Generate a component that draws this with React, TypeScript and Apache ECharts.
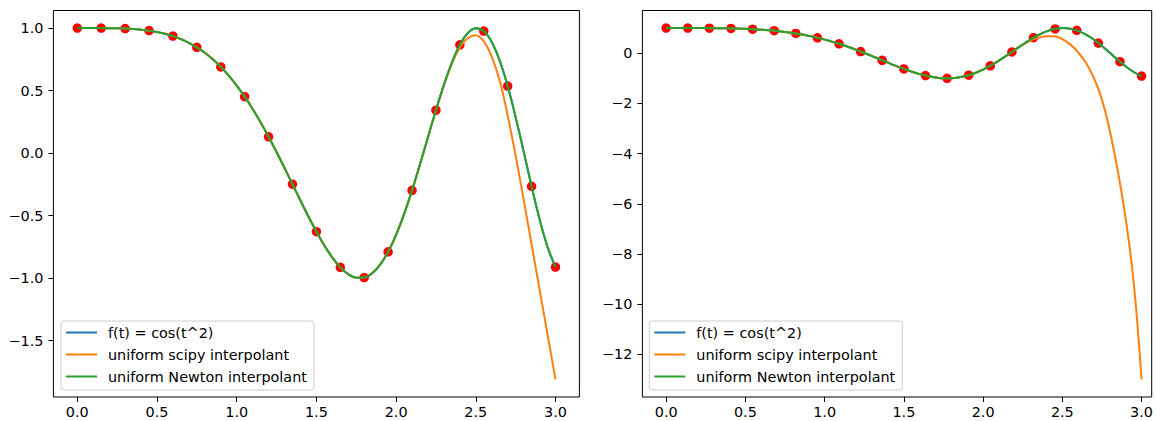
import React, { useEffect, useRef } from "react";
import * as echarts from "echarts";

// sample grid for the smooth curves
const tFine = [
  0.0, 0.05, 0.1, 0.15, 0.2, 0.25, 0.3, 0.35, 0.4, 0.45, 0.5, 0.55, 0.6, 0.65, 0.7, 0.75, 0.8, 0.85, 0.9, 0.95,
  1.0, 1.05, 1.1, 1.15, 1.2, 1.25, 1.3, 1.35, 1.4, 1.45, 1.5, 1.55, 1.6, 1.65, 1.7, 1.75, 1.8, 1.85, 1.9, 1.95,
  2.0, 2.05, 2.1, 2.15, 2.2, 2.25, 2.3, 2.35, 2.4, 2.45, 2.5, 2.55, 2.6, 2.65, 2.7, 2.75, 2.8, 2.85, 2.9, 2.95, 3.0,
];

// f(t) = cos(t^2)
const fValues = [
  1.0, 1.0, 1.0, 0.9997, 0.9992, 0.998, 0.996, 0.9925, 0.9872, 0.9796, 0.9689, 0.9546, 0.9359, 0.9121, 0.8823,
  0.8459, 0.8021, 0.7502, 0.6895, 0.6196, 0.5403, 0.4514, 0.353, 0.2458, 0.1304, 0.0083, -0.1189, -0.249, -0.3794,
  -0.507, -0.6282, -0.739, -0.8353, -0.9134, -0.9685, -0.9969, -0.9952, -0.9608, -0.8923, -0.7895, -0.6536, -0.4881,
  -0.2978, -0.0898, 0.1273, 0.343, 0.5459, 0.7244, 0.8662, 0.9609, 0.9994, 0.976, 0.8885, 0.739, 0.5358, 0.2873,
  0.014, -0.2655, -0.5278, -0.7502, -0.9111,
];

// left panel: Newton interpolant (on top of f) and scipy interpolant
const newtonLeft = [
  1.0, 1.0, 1.0, 0.9997, 0.9992, 0.998, 0.996, 0.9925, 0.9872, 0.9796, 0.9689, 0.9546, 0.9359, 0.9121, 0.8823,
  0.8459, 0.8021, 0.7502, 0.6895, 0.6196, 0.5403, 0.4514, 0.353, 0.2458, 0.1304, 0.0083, -0.1189, -0.249, -0.3794,
  -0.507, -0.6282, -0.739, -0.8353, -0.9134, -0.9685, -0.9969, -0.9952, -0.9608, -0.8923, -0.7895, -0.6536, -0.4881,
  -0.2978, -0.0898, 0.1273, 0.343, 0.5459, 0.7244, 0.8662, 0.9609, 0.9994, 0.976, 0.8885, 0.739, 0.5358, 0.2873,
  0.014, -0.2655, -0.5278, -0.7502, -0.9111,
];
const scipyLeft = [
  1.0, 1.0, 1.0, 0.9997, 0.9992, 0.998, 0.996, 0.9925, 0.9872, 0.9796, 0.9689, 0.9546, 0.9359, 0.9121, 0.8823,
  0.8459, 0.8021, 0.7502, 0.6895, 0.6196, 0.5403, 0.4514, 0.353, 0.2458, 0.1304, 0.0083, -0.1189, -0.249, -0.3794,
  -0.507, -0.6282, -0.739, -0.8353, -0.9134, -0.9685, -0.9969, -0.9952, -0.9608, -0.8923, -0.7895, -0.6536, -0.4881,
  -0.2978, -0.0898, 0.1273, 0.343, 0.543, 0.715, 0.845, 0.918, 0.943, 0.893, 0.771, 0.578, 0.3, -0.02, -0.37, -0.73,
  -1.09, -1.45, -1.81,
];

// right panel
const newtonRight = [
  1.0, 1.0, 1.0, 0.9997, 0.9992, 0.998, 0.996, 0.9925, 0.9872, 0.9796, 0.9689, 0.9546, 0.9359, 0.9121, 0.8823,
  0.8459, 0.8021, 0.7502, 0.6895, 0.6196, 0.5403, 0.4514, 0.353, 0.2458, 0.1304, 0.0083, -0.1189, -0.249, -0.3794,
  -0.507, -0.6282, -0.739, -0.8353, -0.9134, -0.9685, -0.9969, -0.9952, -0.9608, -0.8923, -0.7895, -0.6536, -0.4881,
  -0.2978, -0.0898, 0.1273, 0.343, 0.5459, 0.7244, 0.8662, 0.9609, 0.9994, 0.976, 0.8885, 0.739, 0.5358, 0.2873,
  0.014, -0.2655, -0.5278, -0.7502, -0.9111,
];
const scipyRight = [
  1.0, 1.0, 1.0, 0.9997, 0.9992, 0.998, 0.996, 0.9925, 0.9872, 0.9796, 0.9689, 0.9546, 0.9359, 0.9121, 0.8823,
  0.8459, 0.8021, 0.7502, 0.6895, 0.6196, 0.5403, 0.4514, 0.353, 0.2458, 0.1304, 0.0083, -0.1189, -0.249, -0.3794,
  -0.507, -0.6282, -0.739, -0.8353, -0.9134, -0.9685, -0.9969, -0.9952, -0.9608, -0.8923, -0.7895, -0.6536, -0.4881,
  -0.2978, -0.0898, 0.12, 0.33, 0.5, 0.61, 0.67, 0.67, 0.56, 0.35, 0.03, -0.39, -1.0, -1.85, -3.1, -4.7, -6.6,
  -9.1, -13.0,
];

// interpolation nodes
const tNodesLeft = [
  0.0, 0.15, 0.3, 0.45, 0.6, 0.75, 0.9, 1.05, 1.2, 1.35, 1.5, 1.65, 1.8, 1.95, 2.1, 2.25, 2.4, 2.55, 2.7, 2.85, 3.0,
];
const yNodesLeft = [
  1.0, 0.9997, 0.996, 0.9796, 0.9359, 0.8459, 0.6895, 0.4514, 0.1304, -0.249, -0.6282, -0.9134, -0.9952, -0.7895,
  -0.2978, 0.343, 0.8662, 0.976, 0.5358, -0.2655, -0.9111,
];
const tNodesRight = [
  0.0, 0.1364, 0.2727, 0.4091, 0.5455, 0.6818, 0.8182, 0.9545, 1.0909, 1.2273, 1.3636, 1.5, 1.6364, 1.7727,
  1.9091, 2.0455, 2.1818, 2.3182, 2.4545, 2.5909, 2.7273, 2.8636, 3.0,
];
const yNodesRight = [
  1.0, 0.9998, 0.9972, 0.986, 0.9561, 0.8939, 0.7842, 0.6132, 0.3714, 0.0646, -0.2846, -0.6282, -0.8944, -1.0,
  -0.8761, -0.5051, 0.0479, 0.6149, 0.9668, 0.9091, 0.4044, -0.3396, -0.9111,
];

const xTicks = [0, 0.5, 1, 1.5, 2, 2.5, 3];
const yTicksLeft = [-1.5, -1.0, -0.5, 0, 0.5, 1.0];
const yTicksRight = [-12, -10, -8, -6, -4, -2, 0];

const NAMES = ["f(t) = cos(t^2)", "uniform scipy interpolant", "uniform Newton interpolant"];
const COLORS = ["#1f77b4", "#ff7f0e", "#2ca02c"];

const FONT = "DejaVu Sans";
const FS = 14.4;
const minus = (s: string) => s.replace("-", "\u2212");

function pairs(xs: number[], ys: number[]) {
  return xs.map((x, i) => [x, ys[i]]);
}

export default function App() {
  const ref = useRef<HTMLDivElement>(null);
  useEffect(() => {
    document.body.style.margin = "0";
    const chart = echarts.init(ref.current!, null, { renderer: "svg" });

    const tick = (vals: number[]) => ({
      show: true,
      inside: false,
      length: 5,
      lineStyle: { color: "#000", width: 1 },
      customValues: vals,
    });

    const xAxisBase = (gridIndex: number) => ({
      type: "value" as const,
      gridIndex,
      min: -0.15,
      max: 3.15,
      splitLine: { show: false },
      axisLine: { show: false, onZero: false },
      axisTick: tick(xTicks),
      axisLabel: {
        customValues: xTicks,
        formatter: (v: number) => minus(v.toFixed(1)),
        color: "#000",
        fontFamily: FONT,
        fontSize: FS,
        margin: 8,
      },
    });

    const lineSeries = (name: string, color: string, xi: number, data: number[][], z: number) => ({
      type: "line" as const,
      name,
      xAxisIndex: xi,
      yAxisIndex: xi,
      data,
      showSymbol: false,
      symbol: "none",
      smooth: 0.4,
      lineStyle: { color, width: 2 },
      itemStyle: { color },
      z,
    });

    const legendBase = (left: number) => ({
      orient: "vertical" as const,
      left,
      top: 321,
      data: NAMES,
      icon: "rect",
      itemWidth: 31,
      itemHeight: 2,
      itemGap: 0,
      padding: [0.5, 7, 2.5, 5],
      backgroundColor: "rgba(255,255,255,0.8)",
      borderColor: "#cccccc",
      borderWidth: 1,
      borderRadius: 3,
      selectedMode: false,
      textStyle: { color: "#000", fontFamily: FONT, fontSize: FS, lineHeight: 22, padding: [0, 0, 0, 6] },
    });

    const nodes = (xi: number, data: number[][]) => ({
      type: "scatter" as const,
      xAxisIndex: xi,
      yAxisIndex: xi,
      data,
      symbolSize: 9.5,
      itemStyle: { color: "#ff0000", opacity: 1 },
      z: 1,
      silent: true,
    });

    chart.setOption({
      animation: false,
      grid: [
        { left: 53.4, top: 10.5, width: 526, height: 386.5, show: true, borderColor: "#000", borderWidth: 1, backgroundColor: "transparent" },
        { left: 642.4, top: 10.5, width: 512, height: 386.5, show: true, borderColor: "#000", borderWidth: 1, backgroundColor: "transparent" },
      ],
      xAxis: [xAxisBase(0), { ...xAxisBase(1), max: 3.064 }],
      yAxis: [
        {
          type: "value",
          gridIndex: 0,
          min: -1.9505,
          max: 1.1405,
          splitLine: { show: false },
          axisLine: { show: false, onZero: false },
          axisTick: tick(yTicksLeft),
          axisLabel: {
            customValues: yTicksLeft,
            formatter: (v: number) => minus(v.toFixed(1)),
            color: "#000",
            fontFamily: FONT,
            fontSize: FS,
            margin: 10,
          },
        },
        {
          type: "value",
          gridIndex: 1,
          min: -13.7,
          max: 1.7,
          splitLine: { show: false },
          axisLine: { show: false, onZero: false },
          axisTick: tick(yTicksRight),
          axisLabel: {
            customValues: yTicksRight,
            formatter: (v: number) => minus(String(Math.round(v))),
            color: "#000",
            fontFamily: FONT,
            fontSize: FS,
            margin: 10,
          },
        },
      ],
      legend: [legendBase(61), legendBase(649.3)],
      graphic: [
        { type: "line", shape: { x1: 581, y1: 10, x2: 581, y2: 388 }, style: { stroke: "#ececec", lineWidth: 1 }, silent: true },
      ],
      series: [
        nodes(0, pairs(tNodesLeft, yNodesLeft)),
        lineSeries(NAMES[0], COLORS[0], 0, pairs(tFine, fValues), 2),
        lineSeries(NAMES[1], COLORS[1], 0, pairs(tFine, scipyLeft), 3),
        lineSeries(NAMES[2], COLORS[2], 0, pairs(tFine, newtonLeft), 4),
        nodes(1, pairs(tNodesRight, yNodesRight)),
        lineSeries(NAMES[0], COLORS[0], 1, pairs(tFine, fValues), 2),
        lineSeries(NAMES[1], COLORS[1], 1, pairs(tFine, scipyRight), 3),
        lineSeries(NAMES[2], COLORS[2], 1, pairs(tFine, newtonRight), 4),
      ],
    });
    return () => chart.dispose();
  }, []);
  return <div ref={ref} style={{ width: 1156, height: 421 }} />;
}
